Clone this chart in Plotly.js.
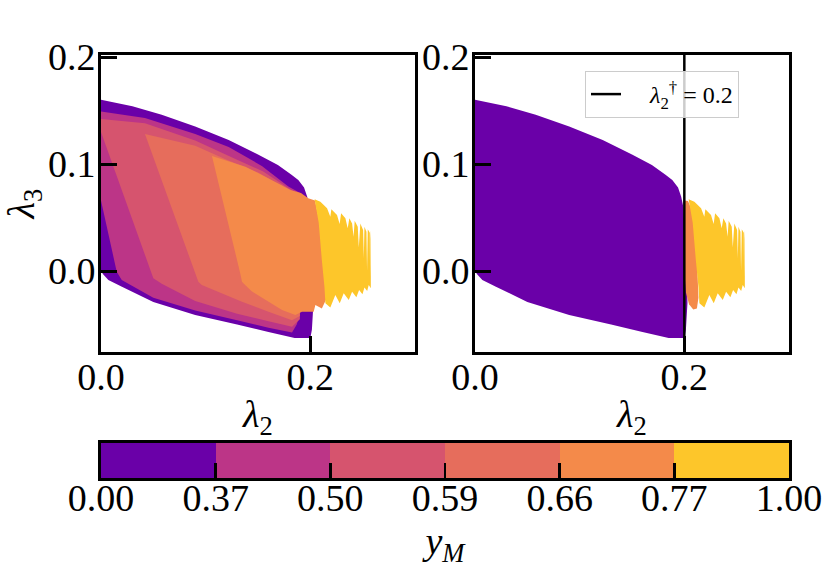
<!DOCTYPE html>
<html><head><meta charset="utf-8">
<script src="https://cdn.plot.ly/plotly-3.0.1.min.js"></script>
<style>html,body{margin:0;padding:0;background:#fff}</style>
</head><body><div id="chart" style="width:830px;height:568px"></div>
<script>
// ---- data ----
const lambda2Range = [0, 0.3];
const lambda3Range = [-0.0757, 0.2019];
const lambda2Ticks = [0, 0.2];
const lambda2TickText = ['0.0', '0.2'];
const lambda3Ticks = [0, 0.1, 0.2];
const lambda3TickText = ['0.0', '0.1', '0.2'];
const lambda2Dagger = 0.2;
const yMBoundLabels = ['0.00', '0.37', '0.50', '0.59', '0.66', '0.77', '1.00'];

// regions where y_M >= level k (left panel)
const region0X = [0, 0.03, 0.058, 0.09, 0.122, 0.15, 0.169, 0.182, 0.1885, 0.194, 0.197, 0.199, 0.2025, 0.203, 0.2015, 0.2, 0.185, 0.16, 0.13, 0.09, 0.05, 0.02, 0.007, 0.002, 0];
const region0Y = [0.160, 0.154, 0.146, 0.135, 0.1225, 0.109, 0.099, 0.090, 0.085, 0.078, 0.0695, 0.06, 0.0, -0.03, -0.055, -0.0625, -0.0625, -0.057, -0.05, -0.041, -0.029, -0.0147, -0.0084, -0.003, 0];
const region1X = [0, 0.042, 0.09, 0.122, 0.154, 0.179, 0.192, 0.192, 0.19, 0.187, 0.1825, 0.16, 0.13, 0.09, 0.05, 0.03, 0.0198, 0.015, 0];
const region1Y = [0.149, 0.143, 0.128, 0.116, 0.098, 0.079, 0.072, 0.0, -0.04, -0.05, -0.0575, -0.053, -0.046, -0.037, -0.025, -0.014, -0.0084, -0.0006, 0.066];
const region2X = [0, 0.042, 0.09, 0.13, 0.155, 0.178, 0.19, 0.19, 0.1825, 0.16, 0.13, 0.09, 0.058, 0.05, 0];
const region2Y = [0.142, 0.138, 0.122, 0.104, 0.093, 0.078, 0.071, -0.045, -0.052, -0.047, -0.040, -0.028, -0.012, -0.0068, 0.13];
const region3X = [0.042, 0.09, 0.12, 0.15, 0.175, 0.19, 0.19, 0.1825, 0.16, 0.1347, 0.0963, 0.093];
const region3Y = [0.128, 0.117, 0.104, 0.092, 0.078, 0.07, -0.042, -0.046, -0.038, -0.0287, -0.013, -0.010];
const region4X = [0.106, 0.138, 0.1505, 0.173, 0.181, 0.191, 0.198, 0.2045, 0.21, 0.2135, 0.2155, 0.211, 0.2048, 0.2032, 0.192, 0.1857, 0.173, 0.144, 0.136, 0.1347, 0.133];
const region4Y = [0.1075, 0.0975, 0.0913, 0.080, 0.0757, 0.073, 0.068, 0.066, 0.04, 0.0, -0.0256, -0.035, -0.0318, -0.038, -0.038, -0.041, -0.0365, -0.019, -0.0115, -0.010, -0.002];
const region5X = [0.2041, 0.2096, 0.216, 0.2191, 0.2201, 0.2255, 0.228, 0.2294, 0.2335, 0.2357, 0.2373, 0.2399, 0.2413, 0.2424, 0.2453, 0.2463, 0.2478, 0.2504, 0.2511, 0.2517, 0.2536, 0.2542, 0.2549, 0.2568, 0.2571, 0.2574, 0.2578, 0.2578, 0.2558, 0.2543, 0.2517, 0.2498, 0.2466, 0.244, 0.2399, 0.2367, 0.2319, 0.2281, 0.2239, 0.2191, 0.2144, 0.2135, 0.211, 0.208];
const region5Y = [0.067, 0.0648, 0.0586, 0.0508, 0.0577, 0.0523, 0.044, 0.054, 0.0492, 0.040, 0.0492, 0.0445, 0.032, 0.047, 0.0414, 0.022, 0.0445, 0.0383, 0.012, 0.0414, 0.0367, 0.0, 0.039, 0.0358, -0.005, 0.0383, 0.03, -0.0162, -0.0131, -0.0187, -0.0153, -0.0218, -0.0178, -0.0246, -0.0193, -0.0271, -0.0209, -0.0302, -0.0224, -0.034, -0.0302, -0.015, 0.01, 0.045];
// right panel: orange strip just past lambda2 dagger
const rightOrangeX = [0.2, 0.2035, 0.208, 0.211, 0.2125, 0.2135, 0.212, 0.2085, 0.2045, 0.2015, 0.2];
const rightOrangeY = [0.066, 0.0655, 0.055, 0.03, 0.0, -0.025, -0.035, -0.036, -0.031, -0.02, 0.0];

// ---- styles ----
const levelColors = ['#6a00a8', '#bc3587', '#d6546e', '#e66d5c', '#f48a4a', '#fdc62a'];
const FONT = 'Liberation Serif, Times New Roman, serif';

function region(x, y, color, xa, ya) {
  return {type: 'scatter', x: x, y: y, mode: 'none', fill: 'toself', fillcolor: color,
          xaxis: xa, yaxis: ya, showlegend: false, hoverinfo: 'skip'};
}
const leftRegions = [[region0X, region0Y], [region1X, region1Y], [region2X, region2Y],
                     [region3X, region3Y], [region4X, region4Y], [region5X, region5Y]];
const traces = leftRegions.map((r, i) => region(r[0], r[1], levelColors[i], 'x', 'y'));
traces.push(region(region0X, region0Y, levelColors[0], 'x2', 'y2'));
traces.push(region(rightOrangeX, rightOrangeY, levelColors[4], 'x2', 'y2'));
traces.push(region(region5X, region5Y, levelColors[5], 'x2', 'y2'));
traces.push({type: 'scatter', mode: 'lines', x: [lambda2Dagger, lambda2Dagger], y: lambda3Range,
  xaxis: 'x2', yaxis: 'y2', line: {color: 'black', width: 2.5},
  name: '\u2003<i>λ</i><sub>2</sub><sup>†</sup> = 0.2', showlegend: true, hoverinfo: 'skip'});
// colour bar as equal-width bins
traces.push({type: 'bar', x: levelColors.map((c, i) => i + 0.5), y: levelColors.map(() => 1),
  width: 1, marker: {color: levelColors, line: {width: 0}}, xaxis: 'x3', yaxis: 'y3',
  showlegend: false, hoverinfo: 'skip'});

const W = 830, H = 568;
const FS = 38;
function axBase(extra) {
  return Object.assign({showline: true, linewidth: 3, linecolor: 'black', mirror: true,
    ticks: 'inside', ticklen: 16, tickwidth: 3, tickcolor: 'black', showgrid: false,
    zeroline: false, tickfont: {family: FONT, size: FS, color: 'black'}, fixedrange: true}, extra);
}
const xTitle = {text: '<i>λ</i><sub>2</sub>', font: {family: FONT, size: FS, color: 'black'}, standoff: 4};
const layout = {
  width: W, height: H, margin: {l: 0, r: 0, t: 0, b: 0},
  paper_bgcolor: 'white', plot_bgcolor: 'white', font: {family: FONT, color: 'black'},
  bargap: 0,
  xaxis: axBase({domain: [101 / W, 415 / W], range: lambda2Range, tickvals: lambda2Ticks, ticktext: lambda2TickText, anchor: 'y', ticklabelstandoff: -11, title: xTitle}),
  yaxis: axBase({domain: [(H - 352) / H, (H - 55) / H], range: lambda3Range, tickvals: lambda3Ticks, ticktext: lambda3TickText, anchor: 'x', ticklabelstandoff: -5,
    title: {text: '<i>λ</i><sub>3</sub>', font: {family: FONT, size: FS, color: 'black'}, standoff: 28}}),
  xaxis2: axBase({domain: [475 / W, 789 / W], range: lambda2Range, tickvals: lambda2Ticks, ticktext: lambda2TickText, anchor: 'y2', ticklabelstandoff: -11, title: xTitle}),
  yaxis2: axBase({domain: [(H - 352) / H, (H - 55) / H], range: lambda3Range, tickvals: lambda3Ticks, ticktext: lambda3TickText, anchor: 'x2', ticklabelstandoff: -5}),
  xaxis3: axBase({domain: [101 / W, 789 / W], range: [0, levelColors.length], tickvals: yMBoundLabels.map((t, i) => i), ticktext: yMBoundLabels,
    anchor: 'y3', ticklen: 15, tickwidth: 2.5, ticklabelstandoff: -16,
    title: {text: '<i>y</i><sub><i>M</i></sub>', font: {family: FONT, size: FS, color: 'black'}, standoff: 17}}),
  yaxis3: axBase({domain: [(H - 478) / H, (H - 443) / H], range: [0, 1], ticks: '', showticklabels: false, anchor: 'x3'}),
  legend: {x: 585 / W, y: (H - 71) / H, xanchor: 'left', yanchor: 'top', bgcolor: 'rgba(255,255,255,0.8)',
    bordercolor: '#cccccc', borderwidth: 1, font: {family: FONT, size: 24, color: 'black'}}
};
Plotly.newPlot('chart', traces, layout, {staticPlot: true, displayModeBar: false});
</script></body></html>
